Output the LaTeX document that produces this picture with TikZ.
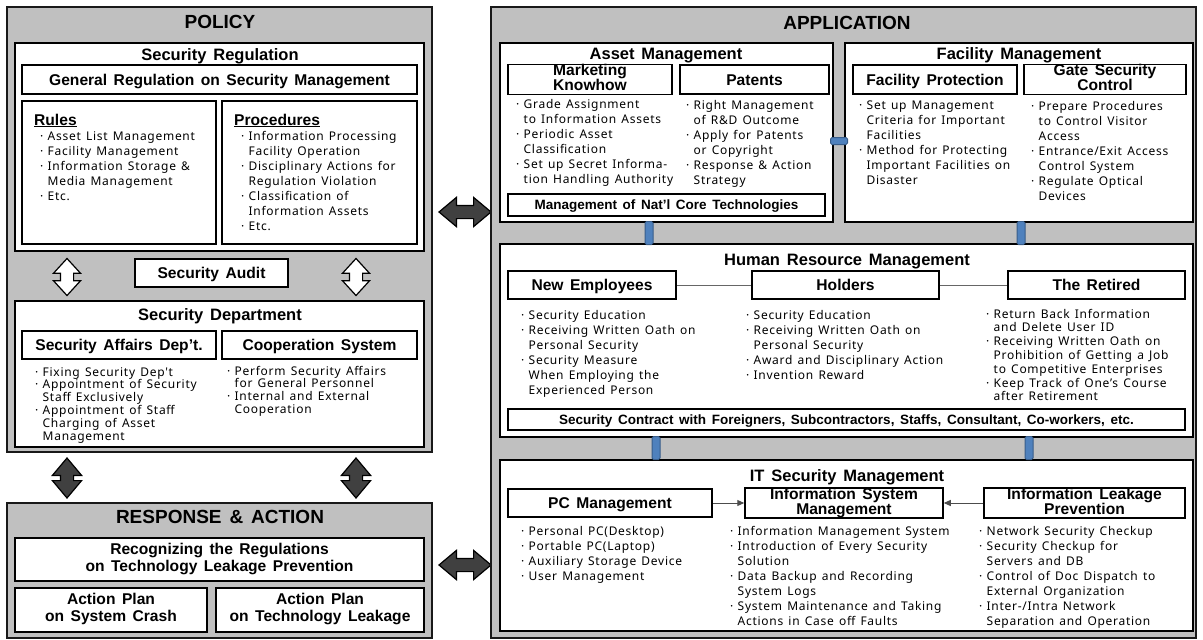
\documentclass[tikz,border=0pt]{standalone}
\usepackage{fontspec}
\setmainfont{Noto Sans}
\newfontfamily\bodyfam[WordSpace=1.35,LetterSpace=6]{Noto Sans}
\newfontfamily\hfam[WordSpace=1.2]{Liberation Sans}
\newfontfamily\sfam[WordSpace=1.5]{Liberation Sans}
\usetikzlibrary{arrows.meta,shapes.arrows}
\definecolor{panel}{HTML}{C0C0C0}
\definecolor{blueC}{HTML}{4F81BD}
\definecolor{blueD}{HTML}{385D8A}
\definecolor{darkA}{HTML}{404040}
\newcommand\bodyf{\bodyfam\fontsize{12}{15}\selectfont}
\newcommand\hdrf{\hfam\bfseries\fontsize{15.6}{17}\selectfont}
\newcommand\subf{\sfam\bfseries\fontsize{16.5}{17}\selectfont}
\newcommand\tightf{\hfam\bfseries\fontsize{15.6}{12.8}\selectfont}
\newcommand\ttlf{\hfam\bfseries\fontsize{19}{19}\selectfont}
\newcommand\smbf{\sfam\bfseries\fontsize{13.5}{13.5}\selectfont}
\newcommand\bu{\makebox[7.5pt][l]{·}}
\newcommand\ct{\hspace*{7.5pt}}
\newcommand\lst[1]{\begin{tabular}[t]{@{}l@{}}#1\end{tabular}}
\newcommand\ctr[1]{\begin{tabular}{@{}c@{}}#1\end{tabular}}
\tikzset{
  rect/.style n args={4}{minimum width={#3-#1}, minimum height={#4-#2}, at={({(#1+#3)/2},{(#2+#4)/2})}},
  panelbox/.style={draw=black!90, line width=1.6pt, fill=panel, inner sep=0pt},
  box/.style={draw=black, line width=1.5pt, fill=white, inner sep=0pt, font=\hdrf},
  one/.style={text height=11pt, text depth=0pt},
  onesm/.style={font=\smbf, text height=9.6pt, text depth=0pt},
  ttl/.style={font=\ttlf, anchor=base, inner sep=0pt},
  sub/.style={font=\subf, anchor=base, inner sep=0pt},
  lst/.style={font=\bodyf, anchor=base west, inner sep=0pt},
  hollowarrow/.style={double arrow, draw=black, line width=1.2pt, fill=white, rotate=90,
    inner sep=6pt, minimum height=37pt, double arrow head extend=7pt, double arrow tip angle=85},
  darkarrow/.style={double arrow, draw=black, line width=1.2pt, fill=darkA,
    inner sep=6pt, double arrow head extend=8pt, double arrow tip angle=80},
  bluelink/.style={draw=blueD, line width=1pt, fill=blueC, rounded corners=1.5pt, inner sep=0pt},
  hrline/.style={draw=black!60, line width=1pt},
  itarrow/.style={draw=black!70, line width=1pt, -{Triangle[length=7pt,width=6pt]}}
}
\begin{document}
\begin{tikzpicture}[x=1pt,y=-1pt]
\fill[white] (0,0) rectangle (1203,640);
\useasboundingbox (0,0) rectangle (1203,640);

% ================= POLICY =================
\node[panelbox, rect={7}{7}{432}{452}] (policy) {};
\node[ttl] (policyT) at (220,28) {POLICY};

\node[box, rect={15}{43}{424}{251}] (secreg) {};
\node[sub] (secregT) at (220,60) {Security Regulation};
\node[box, one, rect={22}{65}{417}{94}] (genreg) {General Regulation on Security Management};
\node[box, rect={22}{101}{216}{244}] (rules) {};
\node[box, rect={222}{101}{417}{244}] (proc) {};
\node[sub, font=\hdrf, anchor=base west] (rulesT) at (34,125) {\underline{Rules}};
\node[lst] (rulesL) at (40,140) {\lst{\bu Asset List Management\\ \bu Facility Management\\ \bu Information Storage \&\\ \ct Media Management\\ \bu Etc.}};
\node[sub, font=\hdrf, anchor=base west] (procT) at (234,125) {\underline{Procedures}};
\node[lst] (procL) at (241,140) {\lst{\bu Information Processing\\ \ct Facility Operation\\ \bu Disciplinary Actions for\\ \ct Regulation Violation\\ \bu Classification of\\ \ct Information Assets\\ \bu Etc.}};

\node[box, one, rect={135}{259}{288}{287}] (audit) {Security Audit};
\node[hollowarrow] (ha1) at (67,277) {};
\node[hollowarrow] (ha2) at (356,277) {};

\node[box, rect={15}{301}{424}{447}] (secdep) {};
\node[sub] (secdepT) at (220,320) {Security Department};
\node[box, one, rect={22}{331}{216}{359}] (sad) {Security Affairs Dep’t.};
\node[box, one, rect={222}{331}{417}{359}] (coop) {Cooperation System};
\node[lst, font=\bodyfam\fontsize{12}{12.6}\selectfont] (sadL) at (35,376) {\lst{\bu Fixing Security Dep't\\ \bu Appointment of Security\\ \ct Staff Exclusively\\ \bu Appointment of Staff\\ \ct Charging of Asset\\ \ct Management}};
\node[lst, font=\bodyfam\fontsize{12}{12.6}\selectfont] (coopL) at (227,375) {\lst{\bu Perform Security Affairs\\ \ct for General Personnel\\ \bu Internal and External\\ \ct Cooperation}};

% arrows policy <-> response
\node[darkarrow, rotate=90, minimum height=40pt] (da1) at (67,478) {};
\node[darkarrow, rotate=90, minimum height=40pt] (da2) at (356,478) {};

% ================= RESPONSE =================
\node[panelbox, rect={7}{503}{432}{638}] (resp) {};
\node[ttl] (respT) at (220,523) {RESPONSE \& ACTION};
\node[box, rect={15}{538}{424}{581}] (recog) {\ctr{Recognizing the Regulations\\ on Technology Leakage Prevention}};
\node[box, rect={15}{588}{207}{632}] (ap1) {\ctr{Action Plan\\ on System Crash}};
\node[box, rect={216}{588}{424}{632}] (ap2) {\ctr{Action Plan\\ on Technology Leakage}};

% horizontal arrows
\node[darkarrow, minimum height=52pt] (ha3) at (465,212) {};
\node[darkarrow, minimum height=52pt] (ha4) at (465,565) {};

% ================= APPLICATION =================
\node[panelbox, rect={491}{7}{1196}{638}] (app) {};
\node[ttl] (appT) at (847,29) {APPLICATION};

% Asset management
\node[box, rect={500}{43}{833}{222}] (asset) {};
\node[sub] (assetT) at (666,59) {Asset Management};
\node[box, rect={508}{65}{672}{94}, font=\tightf] (mk) {\ctr{Marketing\\ Knowhow}};
\node[box, one, rect={680}{65}{829}{94}] (pat) {Patents};
\node[lst] (mkL) at (516,108) {\lst{\bu Grade Assignment\\ \ct to Information Assets\\ \bu Periodic Asset\\ \ct Classification\\ \bu Set up Secret Informa-\\ \ct tion Handling Authority}};
\node[lst] (patL) at (686,109) {\lst{\bu Right Management\\ \ct of R\&D Outcome\\ \bu Apply for Patents\\ \ct or Copyright\\ \bu Response \& Action\\ \ct Strategy}};
\node[box, onesm, rect={508}{194}{825}{216}] (natl) {Management of Nat’l Core Technologies};

% Facility management
\node[box, rect={845}{43}{1193}{222}] (fac) {};
\node[sub] (facT) at (1019,59) {Facility Management};
\node[box, one, rect={853}{65}{1017}{94}] (fp) {Facility Protection};
\node[box, rect={1024}{65}{1186}{94}, font=\tightf] (gsc) {\ctr{Gate Security\\ Control}};
\node[lst] (fpL) at (859,109) {\lst{\bu Set up Management\\ \ct Criteria for Important\\ \ct Facilities\\ \bu Method for Protecting\\ \ct Important Facilities on\\ \ct Disaster}};
\node[lst] (gscL) at (1031,110) {\lst{\bu Prepare Procedures\\ \ct to Control Visitor\\ \ct Access\\ \bu Entrance/Exit Access\\ \ct Control System\\ \bu Regulate Optical\\ \ct Devices}};

% HR management
\node[box, rect={500}{244}{1193}{437}] (hr) {};
\node[sub] (hrT) at (847,265) {Human Resource Management};
\node[box, one, rect={508}{271}{676}{299}] (ne) {New Employees};
\node[box, one, rect={752}{271}{939}{299}] (hold) {Holders};
\node[box, one, rect={1008}{271}{1185}{299}] (ret) {The Retired};
\draw[hrline] (ne.east) -- (hold.west);
\draw[hrline] (hold.east) -- (ret.west);
\node[lst] (neL) at (521,319) {\lst{\bu Security Education\\ \bu Receiving Written Oath on\\ \ct Personal Security\\ \bu Security Measure\\ \ct When Employing the\\ \ct Experienced Person}};
\node[lst] (holdL) at (746,319) {\lst{\bu Security Education\\ \bu Receiving Written Oath on\\ \ct Personal Security\\ \bu Award and Disciplinary Action\\ \bu Invention Reward}};
\node[lst, font=\bodyfam\fontsize{12}{13.8}\selectfont] (retL) at (986,318) {\lst{\bu Return Back Information\\ \ct and Delete User ID\\ \bu Receiving Written Oath on\\ \ct Prohibition of Getting a Job\\ \ct to Competitive Enterprises\\ \bu Keep Track of One’s Course\\ \ct after Retirement}};
\node[box, onesm, rect={508}{409}{1185}{430}] (contract) {Security Contract with Foreigners, Subcontractors, Staffs, Consultant, Co-workers, etc.};

% IT security management
\node[box, rect={500}{460}{1193}{631}] (it) {};
\node[sub] (itT) at (847,481) {IT Security Management};
\node[box, one, rect={508}{489}{712}{517}] (pc) {PC Management};
\node[box, rect={745}{489}{943}{517}, font=\tightf] (ism) {\ctr{Information System\\ Management}};
\node[box, rect={984}{489}{1185}{517}, font=\tightf] (ilp) {\ctr{Information Leakage\\ Prevention}};
\draw[itarrow] (pc.east) -- (ism.west);
\draw[itarrow] (ilp.west) -- (ism.east);
\node[lst] (pcL) at (521,535) {\lst{\bu Personal PC(Desktop)\\ \bu Portable PC(Laptop)\\ \bu Auxiliary Storage Device\\ \bu User Management}};
\node[lst] (ismL) at (730,535) {\lst{\bu Information Management System\\ \bu Introduction of Every Security\\ \ct Solution\\ \bu Data Backup and Recording\\ \ct System Logs\\ \bu System Maintenance and Taking\\ \ct Actions in Case off Faults}};
\node[lst] (ilpL) at (979,535) {\lst{\bu Network Security Checkup\\ \bu Security Checkup for\\ \ct Servers and DB\\ \bu Control of Doc Dispatch to\\ \ct External Organization\\ \bu Inter-/Intra Network\\ \ct Separation and Operation}};

% blue links
\node[bluelink, minimum width=17pt, minimum height=7pt] (bl1) at (839,141) {};
\node[bluelink, minimum width=8pt, minimum height=23pt] (bl2) at (649,233) {};
\node[bluelink, minimum width=8pt, minimum height=23pt] (bl3) at (1021,233) {};
\node[bluelink, minimum width=8pt, minimum height=23pt] (bl4) at (656,448) {};
\node[bluelink, minimum width=8pt, minimum height=23pt] (bl5) at (1029,448) {};
\end{tikzpicture}
\end{document}
